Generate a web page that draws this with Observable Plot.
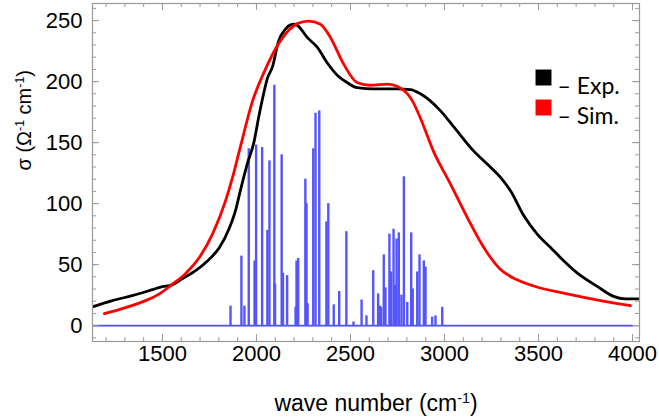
<!DOCTYPE html>
<html>
<head>
<meta charset="utf-8">
<script src="https://cdn.jsdelivr.net/npm/d3@7"></script>
<script src="https://cdn.jsdelivr.net/npm/@observablehq/plot@0.6"></script>
<style>
  html, body { margin: 0; padding: 0; background: white; }
</style>
</head>
<body>
<div id="chart"></div>
<script>
// ---- Data ----
const expWave  = [1110, 1234, 1340, 1447, 1500, 1543, 1606, 1676, 1739, 1803, 1856, 1888, 1915, 1950, 1986, 2012, 2035, 2059, 2085, 2117, 2154, 2181, 2200, 2218, 2271, 2324, 2378, 2431, 2484, 2537, 2622, 2750, 2819, 2872, 2926, 2979, 3059, 3156, 3230, 3298, 3351, 3422, 3493, 3564, 3635, 3707, 3814, 3899, 3960, 4050];
const expSigma = [14.5, 20.5, 24.6, 29.5, 32, 33, 38.5, 45, 53, 64, 80, 94, 111, 132, 150, 171, 188, 203, 212, 233, 243, 246.5, 247, 246, 236, 228, 215, 205, 199, 195, 194, 194, 193.5, 190, 184, 176, 161, 143, 132, 121.5, 110.5, 90, 75, 64, 53, 43, 32, 24, 22, 22];

const simWave  = [1191, 1303, 1410, 1484, 1543, 1622, 1697, 1766, 1835, 1872, 1912, 1979, 2037, 2128, 2218, 2277, 2340, 2394, 2463, 2537, 2606, 2697, 2750, 2803, 2830, 2872, 2941, 3032, 3120, 3209, 3298, 3380, 3475, 3652, 3830, 3989];
const simSigma = [9.8, 14.8, 20.5, 26, 32.8, 42.6, 56, 75, 102, 121, 145, 184, 206.5, 233.6, 247.5, 249.5, 247, 236, 214.5, 199, 197, 198, 196, 190, 184, 170, 143, 116, 89, 64, 46, 38, 32.5, 26, 20.5, 16.4];

const stickWave  = [1862, 1920, 1936, 1959, 1990, 1998, 2030, 2058, 2069, 2095, 2099, 2134, 2141, 2163, 2208, 2213, 2222, 2260, 2266, 2272, 2302, 2314, 2334, 2372, 2382, 2411, 2440, 2478, 2516, 2559, 2585, 2621, 2647, 2656, 2663, 2677, 2686, 2707, 2716, 2729, 2736, 2745, 2757, 2771, 2784, 2802, 2823, 2831, 2855, 2867, 2890, 2899, 2934, 2952, 2988];
const stickSigma = [16, 57, 16, 145, 53, 148, 146, 78, 135, 197, 34, 140, 43, 41, 15, 53, 55, 120, 100, 18, 145, 174, 176, 85, 100, 17, 28, 77, 3, 21, 8, 45, 26, 16, 15, 58, 31, 75, 44, 79, 33, 71, 76, 25, 122, 19, 76, 30, 44, 58, 53, 48, 7, 8, 15];
const stickRange = [1100, 4000];   // extent of the simulated stick spectrum baseline

const xTicks = [1500, 2000, 2500, 3000, 3500, 4000];
const yTicks = [0, 50, 100, 150, 200, 250];
const xMinorTicks = d3.range(1200, 4001, 100);
const yMinorTicks = d3.range(-10, 261, 10);
const xDomain = [1128, 4037];
const yDomain = [-13, 264];

const legendLabels = ["– Exp.", "– Sim."];
const colExp = "#000000", colSim = "#ff0000", colStick = "#5555ff";
const xLabel = "wave number (cm⁻¹)";
const yLabel = "σ (Ω⁻¹ cm⁻¹)";

// ---- Build tables ----
const exp = expWave.map((x, i) => ({x, y: expSigma[i]}));
const sim = simWave.map((x, i) => ({x, y: simSigma[i]}));
const sticks = stickWave.map((x, i) => ({x, y: stickSigma[i]}));
const baseline = stickRange.map(x => ({x, y: 0}));

const W = 659, H = 420;
const mT = 3, mR = 20, mB = 79, mL = 92;
const FW = W - mL - mR, FH = H - mT - mB;
const frameCol = "#9a9a9a";
const majLen = 7, minLen = 4;
const legendFont = "Lato, 'Open Sans', sans-serif";

const chart = Plot.plot({
  width: W, height: H,
  marginTop: mT, marginRight: mR, marginBottom: mB, marginLeft: mL,
  x: {domain: xDomain},
  y: {domain: yDomain},
  style: {fontFamily: "'Liberation Sans', Arial, sans-serif", background: "white", color: "black"},
  marks: [
    Plot.ruleY([0], {stroke: "#c8c8c8", strokeWidth: 1.5}),
    Plot.line(baseline, {x: "x", y: "y", stroke: colStick, strokeWidth: 1.8, clip: true}),
    Plot.ruleX(sticks, {x: "x", y1: 0, y2: "y", stroke: colStick, strokeWidth: 2.4, clip: true}),
    Plot.line(exp, {x: "x", y: "y", stroke: colExp, strokeWidth: 2.8, clip: true, curve: "monotone-x"}),
    Plot.line(sim, {x: "x", y: "y", stroke: colSim, strokeWidth: 2.8, clip: true, curve: "monotone-x"}),
    Plot.frame({stroke: frameCol, strokeWidth: 1.2}),
    // inward ticks: bottom & top
    Plot.tickX(xTicks, {x: d => d, insetTop: FH - majLen, stroke: frameCol}),
    Plot.tickX(xMinorTicks, {x: d => d, insetTop: FH - minLen, stroke: frameCol}),
    Plot.tickX(xTicks, {x: d => d, insetBottom: FH - majLen, stroke: frameCol}),
    Plot.tickX(xMinorTicks, {x: d => d, insetBottom: FH - minLen, stroke: frameCol}),
    // inward ticks: left & right
    Plot.tickY(yTicks, {y: d => d, insetRight: FW - majLen, stroke: frameCol}),
    Plot.tickY(yMinorTicks, {y: d => d, insetRight: FW - minLen, stroke: frameCol}),
    Plot.tickY(yTicks, {y: d => d, insetLeft: FW - majLen, stroke: frameCol}),
    Plot.tickY(yMinorTicks, {y: d => d, insetLeft: FW - minLen, stroke: frameCol}),
    // tick labels
    Plot.axisX(xTicks, {tickSize: 0, tickPadding: 4, tickFormat: d => String(d), fontSize: 22, label: null}),
    Plot.axisY(yTicks, {tickSize: 0, tickPadding: 10, tickFormat: d => String(d), fontSize: 22, label: null}),
    // axis titles
    Plot.text([xLabel], {text: d => d, frameAnchor: "bottom", dy: 62, dx: 10, fontSize: 23, lineAnchor: "middle", className: "supfix"}),
    Plot.text([yLabel], {text: d => d, frameAnchor: "left", rotate: -90, dx: -68, dy: -2, fontSize: 20, lineAnchor: "middle", className: "supfix"}),
    // legend
    Plot.dot([legendLabels[0]], {frameAnchor: "top-right", dx: -96, dy: 74, symbol: "square", r: 9, fill: colExp, stroke: null}),
    Plot.dot([legendLabels[1]], {frameAnchor: "top-right", dx: -96, dy: 104, symbol: "square", r: 9, fill: colSim, stroke: null}),
    Plot.text([legendLabels[0]], {text: d => d, frameAnchor: "top-right", dx: -82, dy: 74, textAnchor: "start", fontSize: 23, fontFamily: legendFont}),
    Plot.text([legendLabels[1]], {text: d => d, frameAnchor: "top-right", dx: -82, dy: 104, textAnchor: "start", fontSize: 23, fontFamily: legendFont})
  ]
});

// turn "⁻¹" into real superscript tspans for a closer typographic match
const SVGNS = "http://www.w3.org/2000/svg";
chart.querySelectorAll("g.supfix text").forEach(t => {
  const parts = t.textContent.split("⁻¹");
  t.textContent = "";
  parts.forEach((p, i) => {
    const a = document.createElementNS(SVGNS, "tspan");
    a.textContent = p;
    if (i > 0) a.setAttribute("dy", "0.34em");
    t.appendChild(a);
    if (i < parts.length - 1) {
      const sup = document.createElementNS(SVGNS, "tspan");
      sup.textContent = "-1";
      sup.setAttribute("font-size", "62%");
      sup.setAttribute("dy", "-0.55em");
      t.appendChild(sup);
    }
  });
});
document.getElementById("chart").appendChild(chart);
</script>
</body>
</html>
